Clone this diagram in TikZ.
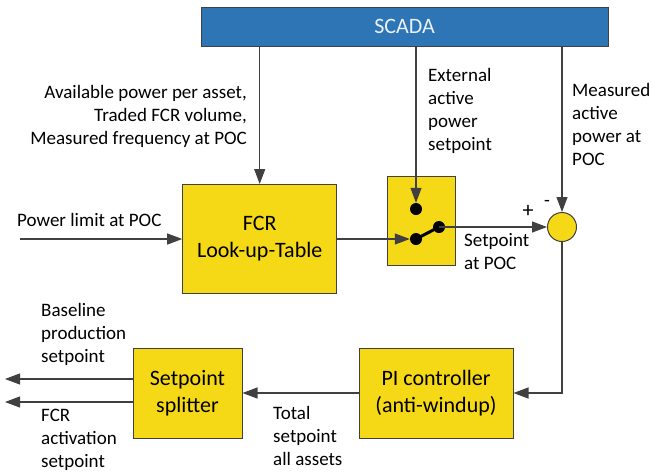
\documentclass[tikz,border=0pt]{standalone}
\usepackage{fontspec}
\setmainfont{Carlito}
\usetikzlibrary{arrows.meta}
\definecolor{boxyellow}{RGB}{245,216,22}
\definecolor{scadablue}{RGB}{46,117,182}
\definecolor{edgegray}{RGB}{64,64,64}
\begin{document}
\begin{tikzpicture}[x=1pt,y=-1pt,
  >={Triangle[length=15pt,width=11pt]},
  wire/.style={draw=edgegray,line width=1.1pt},
  block/.style={draw=edgegray,line width=1pt,fill=boxyellow,align=center,font=\fontsize{22}{27}\selectfont},
  dot/.style={circle,fill=black,inner sep=0pt,minimum size=12pt},
  lbl/.style={inner sep=0pt,font=\fontsize{19}{23}\selectfont}]
  \useasboundingbox (0,0) rectangle (652,472);
  \node [block,fill=scadablue,text=white!90!scadablue,minimum width=407pt,minimum height=39pt] (scada) at (404.5,26.5) {SCADA};
  \node [block,minimum width=154pt,minimum height=109pt] (lut)   at (259.7,239) {FCR\\Look-up-Table};
  \node [block,minimum width=68pt,minimum height=89pt]   (sw)    at (421,220.5) {};
  \node [block,minimum width=154pt,minimum height=90pt]  (pi)    at (436,393) {PI controller\\(anti-windup)};
  \node [block,minimum width=109pt,minimum height=90pt]  (split) at (187.5,393) {Setpoint\\splitter};
  \node [circle,draw=edgegray,line width=1pt,fill=boxyellow,inner sep=0pt,minimum size=29pt] (sum) at (562,227) {};
  \node [dot] (up) at (416,209) {};
  \node [dot] (lo) at (416,239) {};
  \node [dot] (ri) at (439,227) {};
  \coordinate (plimin) at (20,239);
  \coordinate (baseout) at (5,379);
  \coordinate (fcrout) at (5,402);
  % labels
  \node [lbl,anchor=east,align=right] (avail) at (247,116) {Available power per asset,\\Traded FCR volume,\\Measured frequency at POC};
  \node [lbl,anchor=west] (plim) at (17,220) {Power limit at POC};
  \node [lbl,anchor=west,align=left] (ext) at (428,110.5) {External\\active\\power\\setpoint};
  \node [lbl,anchor=west,align=left] (meas) at (572,124) {Measured\\active\\power at\\POC};
  \node [lbl,font=\fontsize{22}{26}\selectfont] (plus) at (528,211) {+};
  \node [lbl] (minus) at (547,203) {-};
  \node [lbl,anchor=west,align=left] (setp) at (464,252) {Setpoint\\at POC};
  \node [lbl,anchor=west,align=left] (base) at (41,334.5) {Baseline\\production\\setpoint};
  \node [lbl,anchor=west,align=left] (fcract) at (41,439.5) {FCR\\activation\\setpoint};
  \node [lbl,anchor=west,align=left] (total) at (273,435.5) {Total\\setpoint\\all assets};
  % connectors
  \draw [wire,->] (lut.north |- scada.south) -- (lut.north);
  \draw [wire,->] (up |- scada.south) -- (up.north);
  \draw [wire,->] (sum |- scada.south) -- (sum.north);
  \draw [wire,->] (plimin) -- (lut.west);
  \draw [wire,->] (lut.east) -- (lo.west);
  \draw [line width=3pt] (lo.center) -- (ri.center);
  \draw [wire,->] (ri.center) -- (sum.west);
  \draw [wire,->] (sum.south) |- (pi.east);
  \draw [wire,->] (pi.west) -- (split.east);
  \draw [wire,->] (split.west |- baseout) -- (baseout);
  \draw [wire,->] (split.west |- fcrout) -- (fcrout);
\end{tikzpicture}
\end{document}
